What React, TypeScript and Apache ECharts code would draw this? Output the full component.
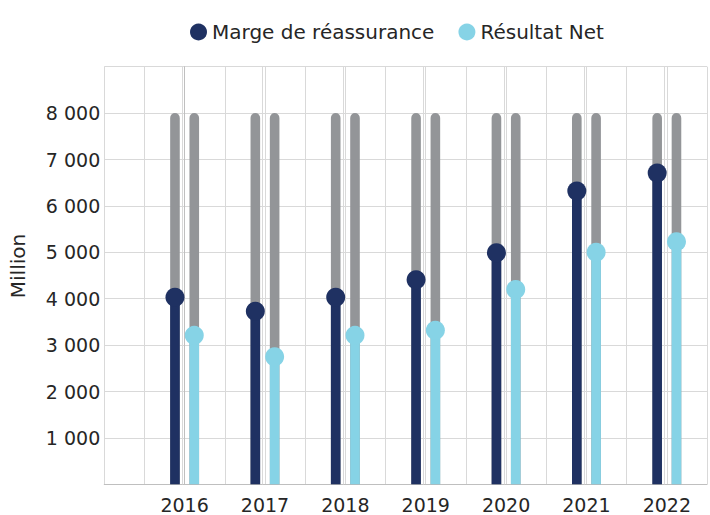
import React, { useEffect, useRef } from "react";
import * as echarts from "echarts";

const years = ["2016", "2017", "2018", "2019", "2020", "2021", "2022"];
const margeReassurance = [4030, 3730, 4030, 4410, 4990, 6320, 6710];
const resultatNet = [3210, 2750, 3210, 3320, 4200, 5000, 5230];
const backgroundValue = 8000;
const seriesNames = ["Marge de réassurance", "Résultat Net"];

const FONT = "DejaVu Sans";
const TEXT = "#262626";
const DARK = "#1F3162";
const LIGHT = "#86D3E6";
const GRAY = "#939598";
const GRID = "#D9D9D9";
const AXIS = "#BFBFBF";

function fmt(v: number) {
  const s = String(Math.round(v));
  return s.replace(/\B(?=(\d{3})+(?!\d))/g, " ");
}

function makeRender(color: string, offset: number, extraLine: boolean) {
  return (params: any, api: any) => {
    const i = api.value(0);
    const v = api.value(1);
    const base = api.coord([i, 0]);
    const top = api.coord([i, v]);
    const bg = api.coord([i, backgroundValue]);
    const w = 9.6;
    const cx = base[0] + offset;
    const children: any[] = [];
    if (extraLine) {
      const t9 = api.coord([i, 9000]);
      const lx = Math.round(base[0] - 2.5) + 0.5;
      children.push({
        type: "line",
        shape: { x1: lx, y1: t9[1], x2: lx, y2: base[1] },
        style: { stroke: GRID, lineWidth: 1 },
        silent: true,
      });
    }
    children.push(
      {
        type: "rect",
        shape: { x: cx - w / 2, y: bg[1], width: w, height: base[1] - bg[1], r: [w / 2, w / 2, 0, 0] },
        style: { fill: GRAY },
      },
      {
        type: "rect",
        shape: { x: cx - w / 2, y: top[1], width: w, height: base[1] - top[1] },
        style: { fill: color },
      },
      {
        type: "circle",
        shape: { cx, cy: top[1], r: 9.5 },
        style: { fill: color },
      }
    );
    return { type: "group", children };
  };
}

export default function App() {
  const ref = useRef<HTMLDivElement>(null);
  useEffect(() => {
    if (!ref.current) return;
    const chart = echarts.init(ref.current, undefined, { renderer: "svg" });
    chart.setOption({
      animation: false,
      backgroundColor: "#ffffff",
      textStyle: { fontFamily: FONT },
      legend: {
        left: 185,
        top: 17,
        itemWidth: 17,
        itemHeight: 17,
        itemGap: 24,
        icon: "circle",
        textStyle: { fontFamily: FONT, fontSize: 20, color: TEXT },
        data: [
          { name: seriesNames[0], itemStyle: { color: DARK } },
          { name: seriesNames[1], itemStyle: { color: LIGHT } },
        ],
      },
      grid: { left: 104.25, right: -2.5, top: 66.7, bottom: 30.7, containLabel: false },
      xAxis: {
        type: "value",
        min: -1,
        max: 6.5,
        interval: 0.5,
        axisLine: { show: true, lineStyle: { color: AXIS, width: 1 } },
        axisTick: { show: false },
        splitLine: { show: true, lineStyle: { color: GRID, width: 1 } },
        axisLabel: {
          fontFamily: FONT,
          fontSize: 19,
          color: TEXT,
          margin: 11,
          showMinLabel: true,
          showMaxLabel: true,
          formatter: (v: number) => {
            const r = Math.round(v);
            if (Math.abs(v - r) > 1e-6) return "";
            return years[r] ?? "";
          },
        },
      },
      yAxis: {
        type: "value",
        min: 0,
        max: 9000,
        interval: 1000,
        axisLine: { show: true, lineStyle: { color: AXIS, width: 1 } },
        axisTick: { show: false },
        splitLine: { show: true, lineStyle: { color: GRID, width: 1 } },
        axisLabel: {
          fontFamily: FONT,
          fontSize: 19,
          color: TEXT,
          margin: 4,
          formatter: (v: number) => (v === 0 || v === 9000 ? "" : fmt(v)),
        },
      },
      graphic: [
        {
          type: "text",
          x: 17.5,
          y: 266,
          rotation: Math.PI / 2,
          style: {
            text: "Million",
            fontFamily: FONT,
            fontSize: 20,
            fill: TEXT,
            align: "center",
            verticalAlign: "middle",
          },
        },
      ],
      series: [
        {
          name: seriesNames[0],
          type: "custom",
          itemStyle: { color: DARK },
          renderItem: makeRender(DARK, -9.65, true),
          data: years.map((_, i) => [i, margeReassurance[i]]),
        },
        {
          name: seriesNames[1],
          type: "custom",
          itemStyle: { color: LIGHT },
          renderItem: makeRender(LIGHT, 9.65, false),
          data: years.map((_, i) => [i, resultatNet[i]]),
        },
      ],
    });
    return () => chart.dispose();
  }, []);
  return <div ref={ref} style={{ width: 710, height: 515, position: "absolute", left: 0, top: 0 }} />;
}
